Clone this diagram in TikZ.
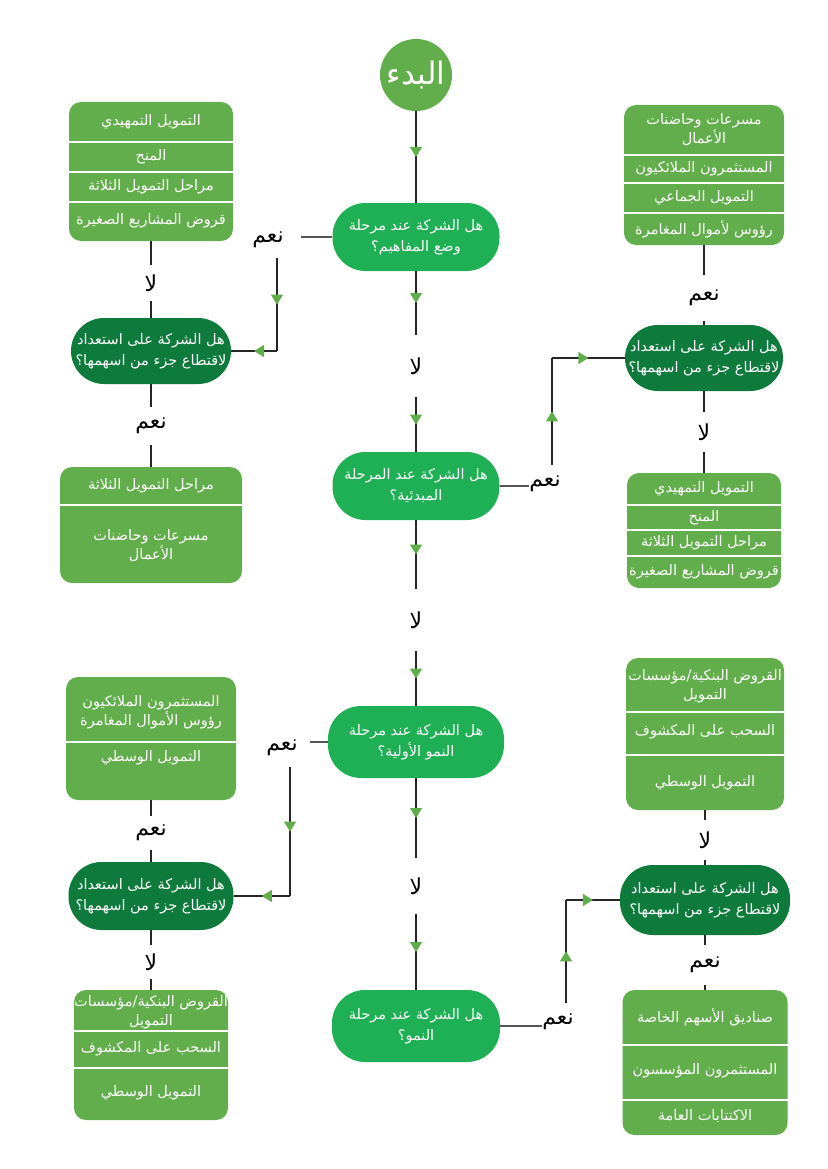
\documentclass[tikz,border=0pt]{standalone}
\usepackage{fontspec}
\newfontfamily\arabicfont[Script=Arabic]{DejaVu Sans}
\TeXXeTstate=1
\usetikzlibrary{arrows.meta,decorations.markings}
\usepackage{xcolor}
\definecolor{BoxGreen}{HTML}{63AE4C}
\definecolor{AskGreen}{HTML}{1FAF55}
\definecolor{DarkGreen}{HTML}{0E7A3B}
\definecolor{TipGreen}{HTML}{5FAE4B}
\definecolor{LineGray}{HTML}{555555}
\newcommand{\artxt}[1]{\beginR #1\endR}

\begin{document}
\begin{tikzpicture}[x=1pt,y=-1pt,
    listbox/.style={fill=BoxGreen,rounded corners=12pt,inner sep=0pt},
    rowtxt/.style={text=white,inner sep=0pt,align=center,
      font=\arabicfont\fontsize{14.5}{19}\selectfont},
    ask/.style={fill=AskGreen,rounded corners=33pt,inner sep=0pt,text=white,
      align=center,font=\arabicfont\fontsize{14.5}{21}\selectfont},
    share/.style={ask,fill=DarkGreen},
    lbl/.style={inner sep=0pt,font=\arabicfont\fontsize{22}{24}\selectfont},
    plain/.style={draw=black!85,line width=1.2pt},
    side/.style={draw=LineGray,line width=1.2pt},
    flow/.style={plain,postaction={decorate},decoration={markings,
      mark=at position 0.5 with {\arrow{Triangle[width=12pt,length=10pt,color=TipGreen]}}}},
    sep/.style={draw=white,line width=1.5pt}]
    \useasboundingbox (0,0) rectangle (827,1169);

    % main column
    \node[circle,fill=BoxGreen,minimum size=72pt,inner sep=0pt,text=white,
      font=\arabicfont\fontsize{31}{31}\selectfont] (start) at (416,75) {\artxt{البدء}};
    \node[ask,minimum width=167pt,minimum height=68pt] (q1) at (416,237)
      {\artxt{هل الشركة عند مرحلة}\\\artxt{وضع المفاهيم؟}};
    \node[lbl,minimum height=62pt] (no1) at (416,366) {\artxt{لا}};
    \node[ask,minimum width=167pt,minimum height=68pt] (q2) at (416,486)
      {\artxt{هل الشركة عند المرحلة}\\\artxt{المبدئية؟}};
    \node[lbl,minimum height=62pt] (no2) at (416,620) {\artxt{لا}};
    \node[ask,minimum width=176pt,minimum height=72pt] (q3) at (416,742)
      {\artxt{هل الشركة عند مرحلة}\\\artxt{النمو الأولية؟}};
    \node[lbl,minimum height=56pt] (no3) at (416,886) {\artxt{لا}};
    \node[ask,minimum width=168pt,minimum height=72pt] (q4) at (416,1026)
      {\artxt{هل الشركة عند مرحلة}\\\artxt{النمو؟}};

    \draw[flow] (start) -- (q1);
    \draw[flow] (q1) -- (no1);
    \draw[flow] (no1) -- (q2);
    \draw[flow] (q2) -- (no2);
    \draw[flow] (no2) -- (q3);
    \draw[flow] (q3) -- (no3);
    \draw[flow] (no3) -- (q4);

    % concept stage, yes -> left
    \node[lbl,minimum width=66pt,minimum height=36pt] (yes1) at (268,240) {\artxt{نعم}};
    \node[share,minimum width=160pt,minimum height=66pt] (l1) at (151,351)
      {\artxt{هل الشركة على استعداد}\\\artxt{لاقتطاع جزء من اسهمها؟}};
    \coordinate (k1) at (277,351);
    \draw[side] (q1.west) -- (q1.west -| yes1.east);
    \draw[flow] (yes1.south -| k1) -- (k1);
    \draw[flow] (k1) -- (l1.east);

    \node[listbox,minimum width=164pt,minimum height=139pt] (lb1) at (151,171.5) {};
    \foreach \y in {142,172,202}
      \draw[sep] (lb1.west |- 0,\y) -- (lb1.east |- 0,\y);
    \node[rowtxt] (lb1a) at (151,122) {\artxt{التمويل التمهيدي}};
    \node[rowtxt] (lb1b) at (151,157) {\artxt{المنح}};
    \node[rowtxt] (lb1c) at (151,187) {\artxt{مراحل التمويل الثلاثة}};
    \node[rowtxt] (lb1d) at (151,221) {\artxt{قروض المشاريع الصغيرة}};
    \node[lbl,minimum height=36pt] (no4) at (151,283) {\artxt{لا}};
    \draw[plain] (lb1) -- (no4);
    \draw[plain] (no4) -- (l1);

    \node[lbl,minimum height=38pt] (yes2) at (151,426) {\artxt{نعم}};
    \node[listbox,minimum width=182pt,minimum height=116pt] (lb2) at (151,525) {};
    \draw[sep] (lb2.west |- 0,505) -- (lb2.east |- 0,505);
    \node[rowtxt] (lb2a) at (151,486) {\artxt{مراحل التمويل الثلاثة}};
    \node[rowtxt] (lb2b) at (151,546) {\artxt{مسرعات وحاضنات}\\\artxt{الأعمال}};
    \draw[plain] (l1) -- (yes2);
    \draw[plain] (yes2) -- (lb2);

    % early stage, yes -> right
    \node[lbl,minimum width=32pt,minimum height=38pt] (yes4) at (545,484) {\artxt{نعم}};
    \node[share,minimum width=158pt,minimum height=66pt] (r1) at (704,358)
      {\artxt{هل الشركة على استعداد}\\\artxt{لاقتطاع جزء من اسهمها؟}};
    \coordinate (k3) at (552,358);
    \draw[side] (q2.east) -- (q2.east -| yes4.west);
    \draw[flow] (yes4.north -| k3) -- (k3);
    \draw[flow] (k3) -- (r1.west);

    \node[listbox,minimum width=160pt,minimum height=140pt] (rb1) at (704,175) {};
    \foreach \y in {155,183,213}
      \draw[sep] (rb1.west |- 0,\y) -- (rb1.east |- 0,\y);
    \node[rowtxt] (rb1a) at (704,130) {\artxt{مسرعات وحاضنات}\\\artxt{الأعمال}};
    \node[rowtxt] (rb1b) at (704,169) {\artxt{المستثمرون الملائكيون}};
    \node[rowtxt] (rb1c) at (704,198) {\artxt{التمويل الجماعي}};
    \node[rowtxt] (rb1d) at (704,229) {\artxt{رؤوس لأموال المغامرة}};
    \node[lbl,minimum height=46pt] (yes3) at (704,298) {\artxt{نعم}};
    \draw[plain] (rb1) -- (yes3);
    \draw[plain] (yes3) -- (r1);

    \node[lbl,minimum height=40pt] (no5) at (704,432) {\artxt{لا}};
    \node[listbox,minimum width=154pt,minimum height=115pt] (rb2) at (704,530.5) {};
    \foreach \y in {505,530,556}
      \draw[sep] (rb2.west |- 0,\y) -- (rb2.east |- 0,\y);
    \node[rowtxt] (rb2a) at (704,489) {\artxt{التمويل التمهيدي}};
    \node[rowtxt] (rb2b) at (704,517.5) {\artxt{المنح}};
    \node[rowtxt] (rb2c) at (704,543) {\artxt{مراحل التمويل الثلاثة}};
    \node[rowtxt] (rb2d) at (704,572) {\artxt{قروض المشاريع الصغيرة}};
    \draw[plain] (r1) -- (no5);
    \draw[plain] (no5) -- (rb2);

    % early growth, yes -> left
    \node[lbl,minimum width=56pt,minimum height=38pt] (yes6) at (282,748) {\artxt{نعم}};
    \node[share,minimum width=165pt,minimum height=68pt] (l2) at (151,896)
      {\artxt{هل الشركة على استعداد}\\\artxt{لاقتطاع جزء من اسهمها؟}};
    \coordinate (k5) at (290,896);
    \draw[side] (q3.west) -- (q3.west -| yes6.east);
    \draw[flow] (yes6.south -| k5) -- (k5);
    \draw[flow] (k5) -- (l2.east);

    \node[listbox,minimum width=170pt,minimum height=123pt] (lb3) at (151,738.5) {};
    \draw[sep] (lb3.west |- 0,742) -- (lb3.east |- 0,742);
    \node[rowtxt] (lb3a) at (151,712) {\artxt{المستثمرون الملائكيون}\\\artxt{رؤوس الأموال المغامرة}};
    \node[rowtxt] (lb3b) at (151,758) {\artxt{التمويل الوسطي}};
    \node[lbl,minimum height=34pt] (yes5) at (151,833) {\artxt{نعم}};
    \draw[plain] (lb3) -- (yes5);
    \draw[plain] (yes5) -- (l2);

    \node[lbl,minimum height=34pt] (no6) at (151,962) {\artxt{لا}};
    \node[listbox,minimum width=154pt,minimum height=130pt] (lb4) at (151,1055) {};
    \foreach \y in {1031,1068}
      \draw[sep] (lb4.west |- 0,\y) -- (lb4.east |- 0,\y);
    \node[rowtxt] (lb4a) at (151,1012) {\artxt{القروض البنكية/مؤسسات}\\\artxt{التمويل}};
    \node[rowtxt] (lb4b) at (151,1049) {\artxt{السحب على المكشوف}};
    \node[rowtxt] (lb4c) at (151,1093) {\artxt{التمويل الوسطي}};
    \draw[plain] (l2) -- (no6);
    \draw[plain] (no6) -- (lb4);

    % growth, yes -> right
    \node[lbl,minimum width=30pt,minimum height=38pt] (yes7) at (558,1022) {\artxt{نعم}};
    \node[share,minimum width=170pt,minimum height=70pt] (r2) at (705,900)
      {\artxt{هل الشركة على استعداد}\\\artxt{لاقتطاع جزء من اسهمها؟}};
    \coordinate (k7) at (566,900);
    \draw[side] (q4.east) -- (q4.east -| yes7.west);
    \draw[flow] (yes7.north -| k7) -- (k7);
    \draw[flow] (k7) -- (r2.west);

    \node[listbox,minimum width=158pt,minimum height=152pt] (rb3) at (705,734) {};
    \foreach \y in {712,755}
      \draw[sep] (rb3.west |- 0,\y) -- (rb3.east |- 0,\y);
    \node[rowtxt] (rb3a) at (705,686) {\artxt{القروض البنكية/مؤسسات}\\\artxt{التمويل}};
    \node[rowtxt] (rb3b) at (705,732) {\artxt{السحب على المكشوف}};
    \node[rowtxt] (rb3c) at (705,783) {\artxt{التمويل الوسطي}};
    \node[lbl,minimum height=40pt] (no7) at (705,840) {\artxt{لا}};
    \draw[plain] (rb3) -- (no7);
    \draw[plain] (no7) -- (r2);

    \node[lbl,minimum height=40pt] (yes8) at (705,965) {\artxt{نعم}};
    \node[listbox,minimum width=165pt,minimum height=145pt] (rb4) at (705,1062.5) {};
    \foreach \y in {1045,1100}
      \draw[sep] (rb4.west |- 0,\y) -- (rb4.east |- 0,\y);
    \node[rowtxt] (rb4a) at (705,1017) {\artxt{صناديق الأسهم الخاصة}};
    \node[rowtxt] (rb4b) at (705,1071) {\artxt{المستثمرون المؤسسون}};
    \node[rowtxt] (rb4c) at (705,1116) {\artxt{الاكتتابات العامة}};
    \draw[plain] (r2) -- (yes8);
    \draw[plain] (yes8) -- (rb4);
\end{tikzpicture}
\end{document}
